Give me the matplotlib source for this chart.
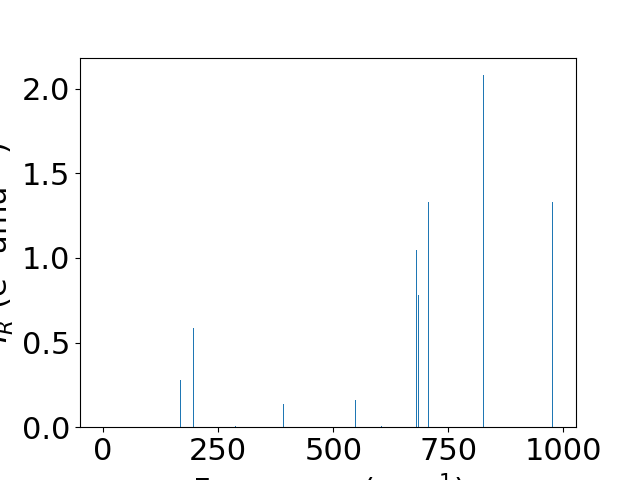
import matplotlib
matplotlib.use("Agg")
import matplotlib.pyplot as plt

# frequencies (cm^-1) and IR intensities
freq = [0, 168, 196, 288, 392, 548, 604, 680, 685, 707, 826, 977]
intensity = [0.0, 0.278, 0.586, 0.01, 0.136, 0.16, 0.01, 1.05, 0.78, 1.33, 2.08, 1.33]

plt.rcParams["font.size"] = 22
fig = plt.figure(figsize=(6.4, 4.8), dpi=100)
plt.bar(freq, intensity, width=2.5)
plt.xlabel("Frequency (cm$^{-1}$)")
plt.ylabel("$I_R$ (e$^2$ amu$^{-1}$)")
plt.savefig("out.png")
